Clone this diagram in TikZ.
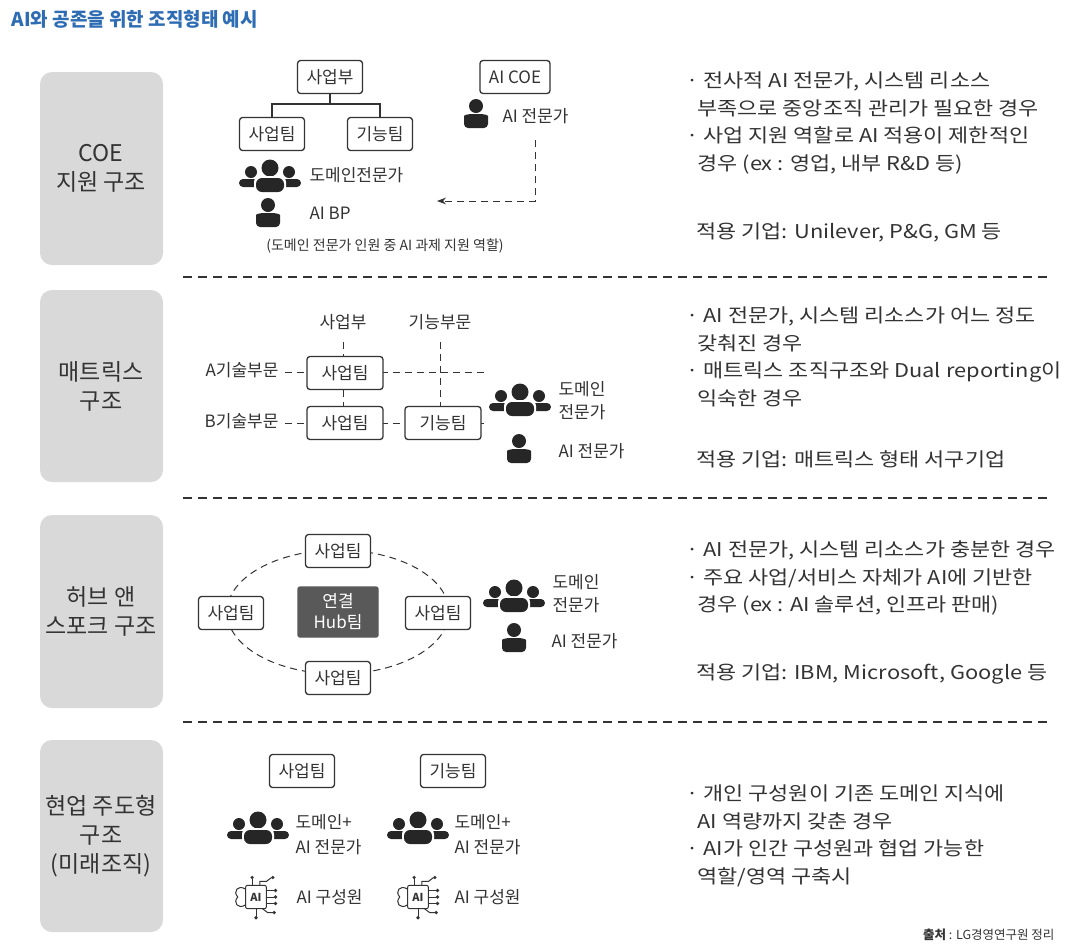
\documentclass[tikz,border=0pt]{standalone}
\usepackage{fontspec}
\setmainfont{Noto Sans CJK KR}
\newfontfamily\widefont[FakeStretch=1.15]{Noto Sans CJK KR}
\usetikzlibrary{arrows.meta,calc}
\definecolor{titleblue}{HTML}{2E6DB4}
\definecolor{panel}{HTML}{D9D9D9}
\definecolor{ink}{HTML}{333333}
\definecolor{hub}{HTML}{595959}
\tikzset{
 x=1pt,y=-1pt,
 every node/.style={text=ink,font=\fontsize{17}{20}\selectfont},
 orgbox/.style={draw=ink,line width=1.3pt,rounded corners=3pt,minimum height=33pt,inner xsep=9pt,fill=white},
 side/.style={fill=panel,rounded corners=12pt,draw=none},
 sidetxt/.style={align=center,font=\fontsize{23}{29}\selectfont},
 sep/.style={line width=1.2pt,ink,dash pattern=on 9pt off 6pt},
 dl/.style={line width=1pt,ink,dash pattern=on 7pt off 5pt},
 bullet/.style={anchor=west,align=left,font=\widefont\fontsize{19}{27.5}\selectfont},
 lbl/.style={anchor=west},
}
\newcommand{\ind}{\hspace*{11pt}}
\newcommand{\person}[1]{%
 \fill[black!85] ($(#1)+(0,-8)$) circle (7);
 \fill[black!85,rounded corners=4pt] ($(#1)+(-12,14)$) -- ($(#1)+(-12,6)$) .. controls ($(#1)+(-12,1)$) and ($(#1)+(-7,0)$) .. ($(#1)+(0,0)$) .. controls ($(#1)+(7,0)$) and ($(#1)+(12,1)$) .. ($(#1)+(12,6)$) -- ($(#1)+(12,14)$) -- cycle;}
\newcommand{\group}[1]{%
 \fill[black!85] ($(#1)+(-19,-5)$) circle (6);
 \fill[black!85] ($(#1)+(19,-5)$) circle (6);
 \fill[black!85,rounded corners=4pt] ($(#1)+(-31,10)$) rectangle ($(#1)+(-8,2)$);
 \fill[black!85,rounded corners=4pt] ($(#1)+(8,10)$) rectangle ($(#1)+(31,2)$);
 \fill[white] ($(#1)+(0,-9)$) circle (10);
 \fill[black!85] ($(#1)+(0,-9)$) circle (8.5);
 \fill[white,rounded corners=6pt] ($(#1)+(-16,16)$) rectangle ($(#1)+(16,-1)$);
 \fill[black!85,rounded corners=6pt] ($(#1)+(-14,15)$) rectangle ($(#1)+(14,1)$);}
\newcommand{\brain}[1]{%
 \begin{scope}[shift={(#1)},line width=1pt,ink,scale=1.3]
 \draw[rounded corners=2pt] (-8,-9) rectangle (8,9);
 \node[font=\fontsize{11}{11}\selectfont\bfseries] at (0,0) {AI};
 \draw (-8,-6) .. controls (-14,-10) and (-18,-4) .. (-14,0) .. controls (-18,4) and (-14,10) .. (-8,6);
 \draw (-3,-9) -- (-3,-14); \fill (-3,-15) circle (1.4);
 \draw (3,-9) -- (3,-12) -- (8,-12) -- (12,-15); \fill (13,-15) circle (1.4);
 \draw (0,9) -- (0,15); \fill (0,16) circle (1.4);
 \foreach \yy in {-5,0,5} {\draw (8,\yy) -- (14,\yy); \fill (15,\yy) circle (1.4);}
 \draw (5,9) -- (9,12) -- (13,12); \fill (14,12) circle (1.4);
 \end{scope}}
\begin{document}
\begin{tikzpicture}
\useasboundingbox (0,0) rectangle (1072,946);
\fill[white] (0,0) rectangle (1072,946);
\node[anchor=west,text=titleblue,font=\fontsize{19}{20}\selectfont\bfseries] (title) at (8,19) {AI와 공존을 위한 조직형태 예시};
\foreach \ya/\yb in {72/265,290/482,515/708,740/932}{\fill[side] (40,\ya) rectangle (163,\yb);}
\node[sidetxt] (s1) at (101,168) {COE\\지원 구조};
\node[sidetxt] (s2) at (101,386) {매트릭스\\구조};
\node[sidetxt] (s3) at (101,611) {허브 앤\\스포크 구조};
\node[sidetxt] (s4) at (101,836) {현업 주도형\\구조\\(미래조직)};
\foreach \yy in {277,498,722}{\draw[sep] (183,\yy) -- (1050,\yy);}
% section 1
\node[orgbox] (b1) at (330,77) {사업부};
\node[orgbox] (coe) at (515,77) {AI COE};
\node[orgbox] (t1) at (272,134) {사업팀};
\node[orgbox] (f1) at (380,134) {기능팀};
\draw[line width=1.2pt,ink] (b1.south) -- (330,104) coordinate (j1);
\draw[line width=1.2pt,ink] (t1.north) |- (j1) -| (f1.north);
\group{270,177}\node[lbl] (dom1) at (306,175) {도메인전문가};
\person{268,213}\node[lbl] (bp) at (306,213) {AI BP};
\node[font=\fontsize{14}{15}\selectfont] (cap) at (385,246) {(도메인 전문가 인원 중 AI 과제 지원 역할)};
\person{476,114}\node[lbl] (aie1) at (499,116) {AI 전문가};
\coordinate (arr) at (437,201);
\draw[dl,-{Stealth[length=9pt]}] (535,140) -- (535,201) -- (arr);
\node[bullet] (r1) at (683,123) {· 전사적 AI 전문가, 시스템 리소스\\\ind 부족으로 중앙조직 관리가 필요한 경우\\· 사업 지원 역할로 AI 적용이 제한적인\\\ind 경우 (ex : 영업, 내부 R\&D 등)};
\node[bullet] (r1b) at (693,232) {적용 기업: Unilever, P\&G, GM 등};
% section 2
\draw[dl] (285,372) -- (487,372);
\draw[dl] (285,423) -- (487,423);
\draw[dl] (343,342) -- (343,423);
\draw[dl] (440,342) -- (440,410);
\node (h1) at (343,322) {사업부};
\node (h2) at (440,322) {기능부문};
\node[anchor=east] (ra) at (282,370) {A기술부문};
\node[anchor=east] (rb) at (282,421) {B기술부문};
\node[orgbox,minimum width=76pt] (m1) at (345,373) {사업팀};
\node[orgbox,minimum width=76pt] (m2) at (345,423) {사업팀};
\node[orgbox,minimum width=76pt] (m3) at (443,423) {기능팀};
\group{520,401}\node[lbl,align=left,font=\fontsize{17}{23}\selectfont] (dom2) at (555,401) {도메인\\전문가};
\person{519,449}\node[lbl] (aie2) at (555,451) {AI 전문가};
\node[bullet] (r2) at (683,357) {· AI 전문가, 시스템 리소스가 어느 정도\\\ind 갖춰진 경우\\· 매트릭스 조직구조와 Dual reporting이\\\ind 익숙한 경우};
\node[bullet] (r2b) at (693,459) {적용 기업: 매트릭스 형태 서구기업};
% section 3
\draw[dl] (338,612) ellipse (111 and 62);
\node[orgbox,fill=hub,draw=hub,text=white,align=center,minimum width=80pt,minimum height=50pt,rounded corners=2pt,font=\fontsize{17}{21}\selectfont] (hubn) at (338,612) {연결\\Hub팀};
\node[orgbox] (n1) at (338,551) {사업팀};
\node[orgbox] (n2) at (338,678) {사업팀};
\node[orgbox] (n3) at (231,613) {사업팀};
\node[orgbox] (n4) at (438,613) {사업팀};
\group{514,597}\node[lbl,align=left,font=\fontsize{17}{23}\selectfont] (dom3) at (549,594) {도메인\\전문가};
\person{514,638}\node[lbl] (aie3) at (548,641) {AI 전문가};
\node[bullet] (r3) at (683,578) {· AI 전문가, 시스템 리소스가 충분한 경우\\· 주요 사업/서비스 자체가 AI에 기반한\\\ind 경우 (ex : AI 솔루션, 인프라 판매)};
\node[bullet] (r3b) at (693,674) {적용 기업: IBM, Microsoft, Google 등};
% section 4
\node[orgbox] (q1) at (302,771) {사업팀};
\node[orgbox] (q2) at (453,771) {기능팀};
\group{258,829}\node[lbl,align=left,font=\fontsize{17}{25}\selectfont] (dom4) at (292,835) {도메인+\\AI 전문가};
\group{418,829}\node[lbl,align=left,font=\fontsize{17}{25}\selectfont] (dom5) at (451,835) {도메인+\\AI 전문가};
\brain{256,897}\node[lbl] (ai1) at (293,897) {AI 구성원};
\brain{418,897}\node[lbl] (ai2) at (451,897) {AI 구성원};
\node[bullet] (r4) at (683,836) {· 개인 구성원이 기존 도메인 지식에\\\ind AI 역량까지 갖춘 경우\\· AI가 인간 구성원과 협업 가능한\\\ind 역할/영역 구축시};
\node[anchor=east,font=\fontsize{12.5}{14}\selectfont] (src) at (1058,935) {\textbf{출처} : LG경영연구원 정리};
\end{tikzpicture}
\end{document}
